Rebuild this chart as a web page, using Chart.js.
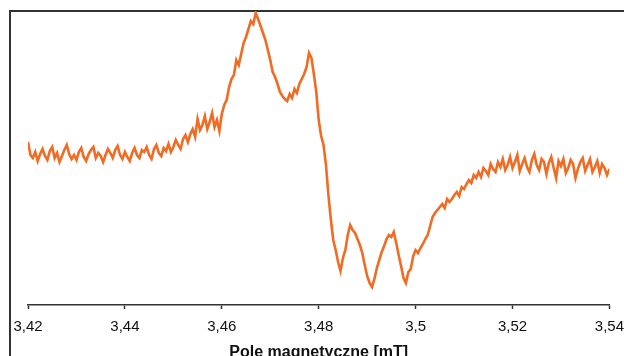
<!DOCTYPE html>
<html>
<head>
<meta charset="utf-8">
<script src="https://cdn.jsdelivr.net/npm/chart.js@4"></script>
<style>
  html, body { margin: 0; padding: 0; background: #fff; overflow: hidden; }
  #wrap { position: relative; width: 624px; height: 356px; overflow: hidden; }
  #frame { position: absolute; left: 9px; top: 10px; width: 700px; height: 420px;
           border-left: 2px solid #333; border-top: 2px solid #333; }
  canvas { position: absolute; left: 0; top: 0; }
</style>
</head>
<body>
<div id="wrap">
  <div id="frame"></div>
  <canvas id="epr" width="633" height="372"></canvas>
</div>
<script>
// pole magnetyczne [mT], rejestrowane co 0,0005 mT
const fieldStart = 3.42;
const fieldStep = 0.0005;
const xTicks = [3.42, 3.44, 3.46, 3.48, 3.5, 3.52, 3.54];

// sygnal EPR (jednostki umowne)
const signal = [
  163,150,147,153,144,151,156,149,145,154,
  158,147,152,143,149,155,160,151,146,150,
  145,153,157,148,144,151,155,158,147,152,
  149,143,150,156,152,147,155,159,150,146,
  153,148,144,152,157,150,147,155,153,158,
  150,146,156,160,152,149,157,154,161,153,
  158,165,160,156,166,170,163,171,176,168,
  186,175,180,189,176,183,192,178,185,174,
  191,200,205,218,226,230,245,240,251,262,
  268,276,284,281,292,286,279,272,265,255,
  245,233,228,221,213,209,206,204,211,207,
  216,212,221,226,231,238,252,247,231,213,
  185,169,160,140,110,86,65,55,43,34,
  47,55,70,80,75,72,66,60,52,40,
  29,22,18,26,37,45,53,59,66,70,
  68,73,62,50,39,27,22,33,36,49,
  55,52,57,61,66,70,79,88,92,95,
  98,101,97,106,103,106,110,113,109,118,
  116,121,125,122,130,127,133,128,137,134,
  130,141,136,133,143,138,146,135,140,148,
  137,143,150,134,141,147,138,133,145,151,
  140,135,146,143,131,142,148,137,127,144,
  139,146,132,137,145,141,127,136,143,147,
  134,140,146,133,138,144,132,141,137,130,136
];

const points = signal.map((v, i) => ({ x: fieldStart + i * fieldStep, y: v }));

const ctx = document.getElementById('epr').getContext('2d');
new Chart(ctx, {
  type: 'line',
  data: {
    datasets: [{
      data: points,
      borderColor: '#F26B22',
      borderWidth: 2.6,
      pointRadius: 0,
      tension: 0,
      fill: false
    }]
  },
  options: {
    responsive: false,
    animation: false,
    devicePixelRatio: 1,
    layout: { padding: { left: 28, right: 15, top: 11, bottom: 0 } },
    plugins: { legend: { display: false }, tooltip: { enabled: false } },
    scales: {
      x: {
        type: 'linear',
        min: 3.42,
        max: 3.54,
        afterBuildTicks: (scale) => { scale.ticks = xTicks.map(v => ({ value: v })); },
        afterFit: (scale) => { scale.height = 372 - 305; },
        grid: { drawOnChartArea: false, drawTicks: true, tickLength: 4, tickColor: '#333', tickWidth: 1.5 },
        border: { display: true, color: '#333', width: 1.5 },
        ticks: {
          autoSkip: false,
          maxRotation: 0,
          padding: 9,
          color: '#111',
          font: { family: 'Liberation Sans, Arial, sans-serif', size: 15 },
          callback: (v) => String(parseFloat(Number(v).toFixed(2))).replace('.', ',')
        },
        title: {
          display: true,
          text: 'Pole magnetyczne [mT]',
          color: '#111',
          font: { family: 'Liberation Sans, Arial, sans-serif', size: 16, weight: 'bold' },
          padding: { top: 0, bottom: 10 }
        }
      },
      y: {
        display: false,
        min: 0,
        max: 294
      }
    }
  }
});
</script>
</body>
</html>
